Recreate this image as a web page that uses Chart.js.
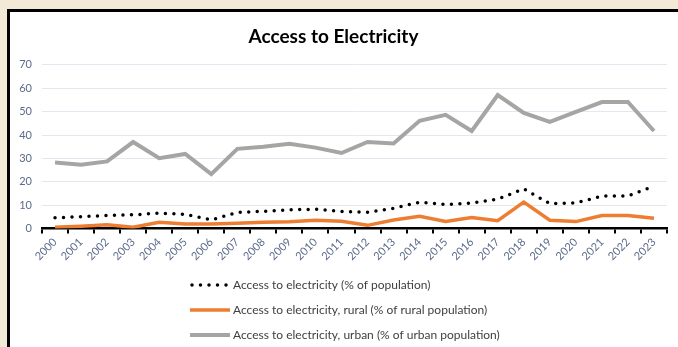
<!DOCTYPE html>
<html>
<head>
<meta charset="utf-8">
<script src="https://cdn.jsdelivr.net/npm/chart.js@4"></script>
<style>
  html, body { margin: 0; padding: 0; }
  body { width: 678px; height: 347px; background: #f2e9d6; position: relative; overflow: hidden; }
  #marco { position: absolute; left: 7px; top: 9px; width: 700px; height: 360px; background: #fff; border: 3px solid #000; box-sizing: border-box; }
  #lienzo { position: absolute; left: 0; top: 0; width: 678px; height: 347px; }
</style>
</head>
<body>
<div id="marco"></div>
<div id="lienzo"><canvas id="grafico" width="678" height="347"></canvas></div>
<script>
const anos = ['2000', '2001', '2002', '2003', '2004', '2005', '2006', '2007', '2008', '2009', '2010', '2011',
              '2012', '2013', '2014', '2015', '2016', '2017', '2018', '2019', '2020', '2021', '2022', '2023'];

// % de población total con electricidad
const accesoTotal = [4.6, 5.1, 5.6, 5.9, 6.6, 6.1, 3.7, 6.9, 7.4, 8.0, 8.3, 7.3,
                     7.0, 8.7, 11.3, 10.3, 10.9, 12.6, 17.0, 10.7, 11.0, 13.9, 14.0, 18.1];
// % de población rural
const accesoRural = [0.6, 1.0, 1.6, 0.6, 2.7, 2.0, 2.0, 2.3, 2.7, 2.9, 3.6, 3.1,
                     1.4, 3.7, 5.3, 3.1, 4.7, 3.4, 11.3, 3.6, 3.0, 5.6, 5.6, 4.4];
// % de población urbana
const accesoUrbano = [28.3, 27.3, 28.7, 37.0, 30.1, 31.9, 23.3, 34.1, 35.0, 36.3, 34.6, 32.3,
                      37.0, 36.4, 46.1, 48.6, 41.7, 57.1, 49.4, 45.6, 49.9, 54.1, 54.1, 41.7];

const etiquetasY = [0, 10, 20, 30, 40, 50, 60, 70];

const fuente = 'Lato, "Open Sans", sans-serif';

// leyenda vertical debajo del gráfico
const leyendaVertical = {
    id: 'leyendaVertical',
    afterDraw(chart) {
        const ctx = chart.ctx;
        const x0 = 190, y0 = 285, paso = 25, largo = 40;
        ctx.save();
        chart.data.datasets.forEach((ds, i) => {
            const y = y0 + i * paso;
            ctx.beginPath();
            ctx.strokeStyle = ds.borderColor;
            ctx.lineWidth = ds.borderWidth;
            ctx.lineCap = ds.borderCapStyle || 'butt';
            ctx.setLineDash(ds.borderDash || []);
            if (ds.borderDash) {
                ctx.moveTo(x0 + 2, y);
            } else {
                ctx.moveTo(x0, y);
            }
            ctx.lineTo(x0 + largo, y);
            ctx.stroke();
            ctx.setLineDash([]);
            ctx.fillStyle = '#404040';
            ctx.font = '12px ' + fuente;
            ctx.textBaseline = 'middle';
            ctx.textAlign = 'left';
            ctx.fillText(ds.label, x0 + largo + 3, y);
        });
        ctx.restore();
    }
};

new Chart(document.getElementById('grafico'), {
    type: 'line',
    data: {
        labels: anos,
        datasets: [
            {
                label: 'Access to electricity (% of population)',
                data: accesoTotal,
                borderColor: '#000000',
                borderWidth: 3.5,
                borderDash: [0, 8.5],
                borderCapStyle: 'round',
                pointRadius: 0,
                tension: 0
            },
            {
                label: 'Access to electricity, rural (% of rural population)',
                data: accesoRural,
                borderColor: '#ed7d31',
                borderWidth: 3.5,
                pointRadius: 0,
                tension: 0
            },
            {
                label: 'Access to electricity, urban (% of urban population)',
                data: accesoUrbano,
                borderColor: '#a5a5a5',
                borderWidth: 4,
                pointRadius: 0,
                tension: 0
            }
        ]
    },
    options: {
        responsive: false,
        animation: false,
        layout: { padding: { left: 0, right: 11, top: 0, bottom: 82 } },
        plugins: {
            legend: { display: false },
            tooltip: { enabled: false },
            title: {
                display: true,
                text: 'Access to Electricity',
                color: '#000000',
                font: { family: fuente, size: 19, weight: 'bold' },
                padding: { top: 25, bottom: 17 }
            }
        },
        scales: {
            x: {
                offset: true,
                grid: {
                    offset: true,
                    drawOnChartArea: false,
                    drawTicks: true,
                    tickLength: 5,
                    color: '#000000',
                    lineWidth: 2
                },
                border: { color: '#000000', width: 2.5 },
                ticks: {
                    color: '#5b6b8a',
                    font: { family: fuente, size: 11 },
                    minRotation: 45,
                    maxRotation: 45,
                    padding: 2,
                    autoSkip: false
                }
            },
            y: {
                min: 0,
                max: 70,
                afterFit(scale) { scale.width = 42; },
                afterBuildTicks(scale) { scale.ticks = etiquetasY.map(v => ({ value: v })); },
                grid: { color: '#e2e7f0', lineWidth: 1, drawTicks: false },
                border: { display: false },
                ticks: {
                    color: '#5b6b8a',
                    font: { family: fuente, size: 11 },
                    padding: 10
                }
            }
        }
    },
    plugins: [leyendaVertical]
});
</script>
</body>
</html>
